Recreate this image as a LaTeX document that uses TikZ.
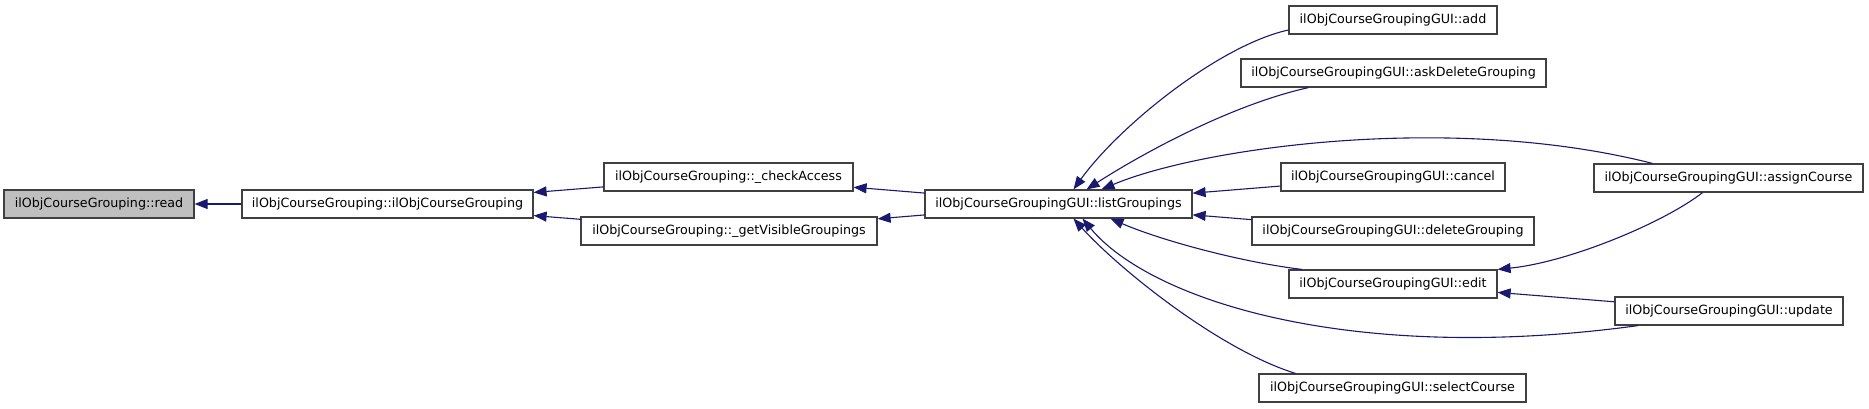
\documentclass[tikz,border=0pt]{standalone}
\usepackage{fontspec}
\setmainfont{DejaVu Sans}
\usetikzlibrary{arrows.meta}
\usetikzlibrary{positioning}
\definecolor{callblue}{RGB}{25,25,112}

\begin{document}
\begin{tikzpicture}[x=1pt, y=-1pt,
    fn/.style={draw=black!75, line width=1.2pt, fill=white, minimum height=28pt,
      inner sep=0pt, font=\fontsize{12.7}{15}\selectfont},
    call/.style={callblue, line width=1.1pt, {Triangle[length=13pt,width=10pt]}-}]
      \useasboundingbox (0, 0) rectangle (1869, 408);
      \node[fn, fill=black!25, minimum width=190pt] (read) at (99, 204) {ilObjCourseGrouping::read};
      \node[fn, minimum width=291pt] (ctor) at (387.5, 204) {ilObjCourseGrouping::ilObjCourseGrouping};
      \node[fn, minimum width=249pt] (checkAccess) at (728.5, 177) {ilObjCourseGrouping::\_checkAccess};
      \node[fn, minimum width=296pt] (visible) at (729, 231) {ilObjCourseGrouping::\_getVisibleGroupings};
      \node[fn, minimum width=267pt] (listG) at (1058.5, 204) {ilObjCourseGroupingGUI::listGroupings};
      \node[fn, minimum width=208pt] (add) at (1393, 20) {ilObjCourseGroupingGUI::add};
      \node[fn, minimum width=305pt] (askDelete) at (1393.5, 73) {ilObjCourseGroupingGUI::askDeleteGrouping};
      \node[fn, minimum width=224pt] (cancel) at (1393, 177) {ilObjCourseGroupingGUI::cancel};
      \node[fn, minimum width=282pt] (deleteG) at (1393, 231) {ilObjCourseGroupingGUI::deleteGrouping};
      \node[fn, minimum width=208pt] (edit) at (1393, 284) {ilObjCourseGroupingGUI::edit};
      \node[fn, minimum width=267pt] (selectC) at (1392.5, 388) {ilObjCourseGroupingGUI::selectCourse};
      \node[fn, minimum width=269pt] (assignC) at (1728.5, 178) {ilObjCourseGroupingGUI::assignCourse};
      \node[fn, minimum width=228pt] (update) at (1729, 311) {ilObjCourseGroupingGUI::update};
      \foreach \a/\b in {read/ctor, ctor/checkAccess, ctor/visible, checkAccess/listG,
        visible/listG, listG/cancel, listG/deleteG, edit/update} {
        \draw[call] (\a) -- (\b);
      }
      \draw[call] ([xshift=15pt]listG.north) .. controls (1120, 125) and (1220, 45) .. ([yshift=-10pt]add.west);
      \draw[call] ([xshift=28pt]listG.north) .. controls (1140, 155) and (1230, 105) .. ([xshift=-85pt]askDelete.south);
      \draw[call] ([xshift=43pt]listG.north) .. controls (1200, 148) and (1450, 112) .. ([xshift=-76pt]assignC.north);
      \draw[call] ([xshift=52pt]listG.south) .. controls (1160, 240) and (1240, 262) .. ([xshift=-91pt]edit.north);
      \draw[call] ([xshift=24pt]listG.south) .. controls (1150, 300) and (1350, 365) .. ([xshift=-91pt]update.south);
      \draw[call] ([xshift=15pt]listG.south) .. controls (1120, 270) and (1220, 350) .. ([xshift=-97pt]selectC.north);
      \draw[call] (edit.north east) .. controls (1570, 262) and (1665, 222) .. ([xshift=-26pt]assignC.south);
\end{tikzpicture}
\end{document}
